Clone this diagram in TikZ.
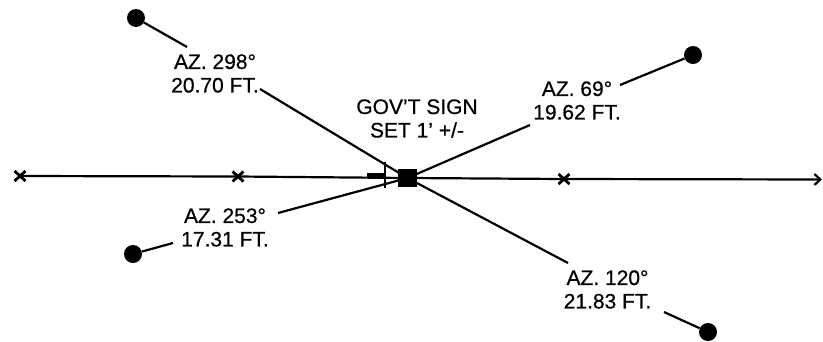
\documentclass[tikz,border=0pt]{standalone}
\usepackage{fontspec}
\setmainfont[FakeBold=0.6]{Liberation Sans}
\usetikzlibrary{arrows.meta,calc}
\tikzset{
  lbl/.style={font=\fontsize{21}{23.5}\selectfont, align=center, inner sep=0pt, text=black},
  ln/.style={line width=2.2pt, black},
  dotn/.style={circle, fill=black, minimum size=18pt, inner sep=0pt}
}
\begin{document}
\begin{tikzpicture}[x=1pt,y=-1pt]
\useasboundingbox (0,0) rectangle (823,341);
% main line
\coordinate (L) at (20,176);
\coordinate (M1) at (238,176.5);
\coordinate (S) at (408,178);
\coordinate (M2) at (564,179);
\coordinate (R) at (822,179.5);
\draw[ln, -{Straight Barb[length=6pt,width=11pt]}] (L) -- (M1) -- (S) -- (M2) -- (R);
\foreach \c in {L,M1,M2}{
  \draw[line width=2.8pt] ($(\c)+(-5.5,-5)$) -- ($(\c)+(5.5,5)$);
  \draw[line width=2.8pt] ($(\c)+(-5.5,5)$) -- ($(\c)+(5.5,-5)$);
}
% sign
\node[fill=black, minimum width=19pt, minimum height=18pt, inner sep=0pt] (sign) at (407.5,178) {};
\coordinate (B1) at (385,162);
\coordinate (B2) at (385,188);
\draw[line width=1.8pt] (B1) -- (B2);
\draw[line width=4.5pt] (367,175) -- (385,175);
% dots
\node[dotn] (d1) at (136,18) {};
\node[dotn] (d2) at (693,55) {};
\node[dotn] (d3) at (133,254) {};
\node[dotn] (d4) at (708,332) {};
% leader ends
\coordinate (e1a) at (187,47);
\coordinate (e1b) at (260,89);
\coordinate (e2a) at (620,85);
\coordinate (e2b) at (530,125);
\coordinate (e3a) at (173,243);
\coordinate (e3b) at (278,213);
\coordinate (e4a) at (664,312);
\coordinate (e4b) at (568,263);
\draw[ln] (d1) -- (e1a);
\draw[ln] (e1b) -- (sign.center);
\draw[ln] (d2) -- (e2a);
\draw[ln] (e2b) -- (sign.center);
\draw[ln] (d3) -- (e3a);
\draw[ln] (e3b) -- (sign.center);
\draw[ln] (d4) -- (e4a);
\draw[ln] (e4b) -- (sign.center);
% labels
\node[lbl] (t1) at (215,73.5) {AZ. 298°\\20.70 FT.};
\node[lbl] (t2) at (577,100.5) {AZ. 69°\\19.62 FT.};
\node[lbl] (t3) at (225,227.5) {AZ. 253°\\17.31 FT.};
\node[lbl] (t4) at (607.5,289.5) {AZ. 120°\\21.83 FT.};
\node[lbl] (t5) at (417,118.5) {GOV'T SIGN\\SET 1' +/-};
\end{tikzpicture}
\end{document}
